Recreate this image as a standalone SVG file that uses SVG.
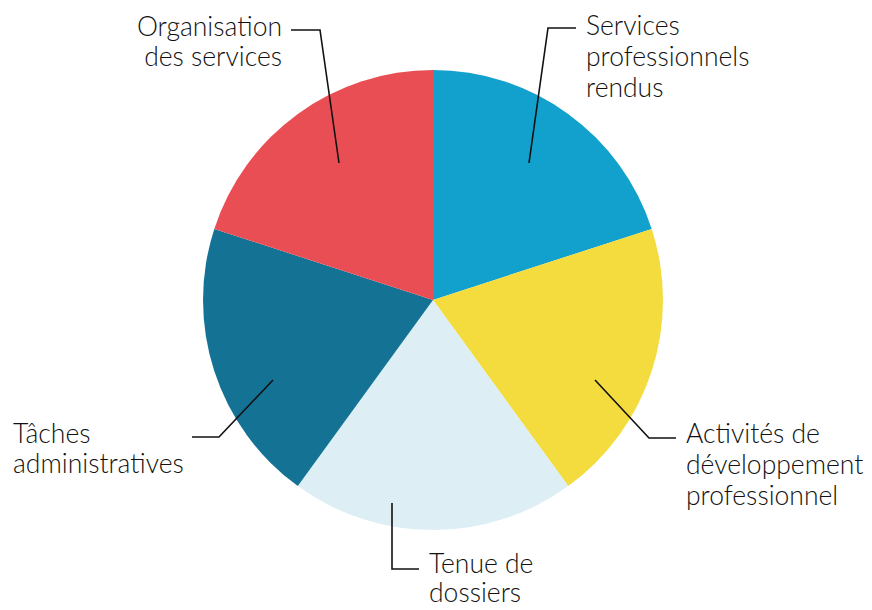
<svg xmlns="http://www.w3.org/2000/svg" width="872" height="610" viewBox="0 0 872 610">
<style>
.lbl{font-family:"Lato","Open Sans","Liberation Sans",sans-serif;font-size:26.5px;font-weight:300;fill:#111}
.lead{fill:none;stroke:#111;stroke-width:1.6}
</style>
<rect width="872" height="610" fill="#fff"/>
<g id="slices">
<path id="s-services" d="M433,300 L433,70 A230,230 0 0 1 651.7,228.9 Z" fill="#12A0CD"/>
<path id="s-activites" d="M433,300 L651.7,228.9 A230,230 0 0 1 568.2,486.1 Z" fill="#F4DB3E"/>
<path id="s-tenue" d="M433,300 L568.2,486.1 A230,230 0 0 1 297.8,486.1 Z" fill="#DDEEF5"/>
<path id="s-taches" d="M433,300 L297.8,486.1 A230,230 0 0 1 214.3,228.9 Z" fill="#147394"/>
<path id="s-organisation" d="M433,300 L214.3,228.9 A230,230 0 0 1 433,70 Z" fill="#E94E55"/>
</g>
<g id="connectors">
<polyline class="lead" points="339,163 320,30 291,30"/>
<polyline class="lead" points="529,163 548,28 576,28"/>
<polyline class="lead" points="273,380 219,437 192,437"/>
<polyline class="lead" points="595,380 649,438 676,438"/>
<polyline class="lead" points="392,503 392,569 419,569"/>
</g>
<g id="label-organisation"><text class="lbl" text-anchor="end" x="282" y="36">Organisation</text><text class="lbl" text-anchor="end" x="282" y="66">des services</text></g>
<g id="label-services"><text class="lbl" x="586" y="35">Services</text><text class="lbl" x="586" y="66">professionnels</text><text class="lbl" x="586" y="97">rendus</text></g>
<g id="label-taches"><text class="lbl" x="13" y="443">Tâches</text><text class="lbl" x="13" y="473">administratives</text></g>
<g id="label-activites"><text class="lbl" x="686" y="443">Activités de</text><text class="lbl" x="686" y="474">développement</text><text class="lbl" x="686" y="505">professionnel</text></g>
<g id="label-tenue"><text class="lbl" x="429" y="573">Tenue de</text><text class="lbl" x="429" y="602">dossiers</text></g>
</svg>
